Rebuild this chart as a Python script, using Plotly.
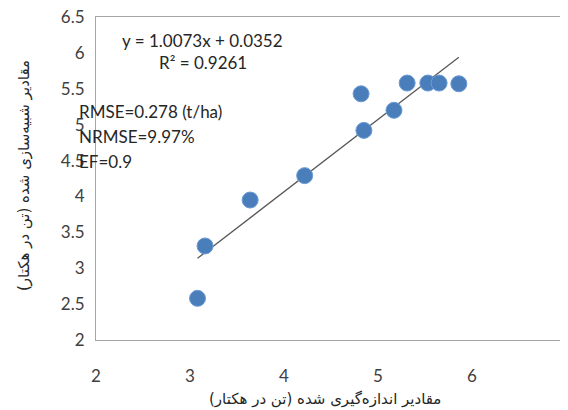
import plotly.graph_objects as go

measured = [3.08, 3.16, 3.64, 4.22, 4.82, 4.85, 5.17, 5.31, 5.53, 5.65, 5.86]
simulated = [2.58, 3.31, 3.95, 4.29, 5.43, 4.92, 5.20, 5.58, 5.58, 5.58, 5.57]
slope = 1.0073
intercept = 0.0352
eq_text = "y = 1.0073x + 0.0352"
r2_text = "R² = 0.9261"
stats_text = ["RMSE=0.278 (t/ha)", "NRMSE=9.97%", "EF=0.9"]
x_title = "مقادیر اندازه‌گیری شده (تن در هکتار)"
y_title = "مقادیر شبیه‌سازی شده (تن در هکتار)"

# page body adds an 8px offset; work in screen pixels and convert
OFF = 8
W, H = 568 - OFF, 410 - OFF
L, R, T, B = 96, 566, 17, 340
PW, PH = R - L, B - T

def px(xp):
    return (xp - L) / PW

def py(yp):
    return (B - yp) / PH

xmin, xmax = min(measured), max(measured)
fig = go.Figure()
fig.add_trace(go.Scatter(
    x=[xmin, xmax], y=[slope * xmin + intercept, slope * xmax + intercept],
    mode="lines", line=dict(color="#595959", width=1.3), showlegend=False))
fig.add_trace(go.Scatter(
    x=measured, y=simulated, mode="markers",
    marker=dict(size=16, color="#4A7EBB", line=dict(color="#6A9AD4", width=1)),
    showlegend=False))

txtfont = dict(family="Lato, Noto Sans, sans-serif", size=17, color="#262626")
fig.add_annotation(xref="paper", yref="paper", x=px(202), y=py(40),
                   text=eq_text, showarrow=False, font=txtfont, xanchor="center", yanchor="middle")
fig.add_annotation(xref="paper", yref="paper", x=px(203), y=py(63),
                   text=r2_text, showarrow=False, font=txtfont, xanchor="center", yanchor="middle")
for i, t in enumerate(stats_text):
    yc = [112, 136, 161][i]
    fig.add_annotation(xref="paper", yref="paper", x=px(77), y=py(yc),
                       text=t, showarrow=False, font=txtfont, xanchor="left", yanchor="middle")

titlefont = dict(family="DejaVu Sans", size=15, color="#262626")
fig.add_annotation(xref="paper", yref="paper", x=px(325), y=py(399),
                   text=x_title, showarrow=False, font=titlefont, xanchor="center", yanchor="middle")
fig.add_annotation(xref="paper", yref="paper", x=px(24), y=py(176),
                   text=y_title, showarrow=False, font=titlefont, textangle=-90,
                   xanchor="center", yanchor="middle")

tickfont = dict(family="Lato, Noto Sans, sans-serif", size=17, color="#404040")
fig.update_layout(
    width=W, height=H,
    margin=dict(l=L - OFF, r=568 - R, t=T - OFF, b=410 - B),
    paper_bgcolor="white", plot_bgcolor="white",
    xaxis=dict(range=[2, 7], dtick=1, showgrid=False, zeroline=False, automargin=False,
               showline=True, mirror=True, linecolor="#A6A6A6", linewidth=1.2,
               ticks="", ticklabelstandoff=20, tickfont=tickfont, ticklabeloverflow="allow"),
    yaxis=dict(range=[2, 6.5], dtick=0.5, showgrid=False, zeroline=False, automargin=False,
               showline=True, mirror=True, linecolor="#A6A6A6", linewidth=1.2,
               ticks="", ticklabelstandoff=7, tickfont=tickfont, ticklabeloverflow="allow"),
)
fig.write_html("out.html")
